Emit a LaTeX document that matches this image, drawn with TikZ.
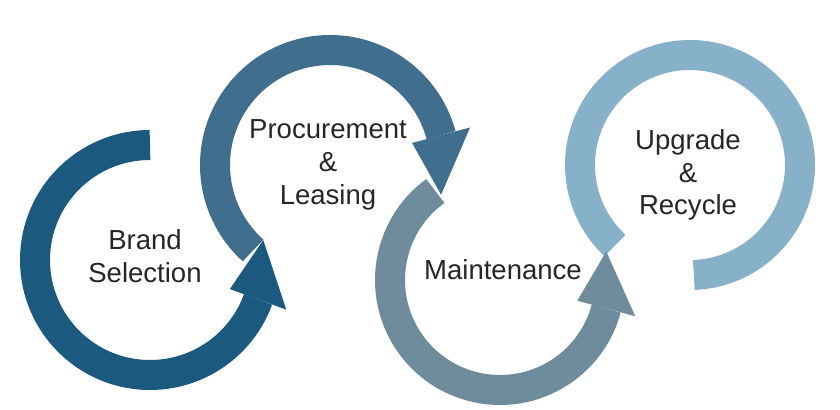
\documentclass[tikz,border=0pt]{standalone}
\usepackage{fontspec}
\setmainfont{Liberation Sans}
\begin{document}
\begin{tikzpicture}[x=0.03cm,y=0.03cm,
  lbl/.style={align=center,text=black!85,font=\fontsize{23.5}{28}\selectfont}]
\definecolor{c1}{HTML}{1B5A7E}
\definecolor{c2}{HTML}{3F6F8C}
\definecolor{c3}{HTML}{6F8C9C}
\definecolor{c4}{HTML}{87B1C8}
\fill[white] (0,0) rectangle (840,409);
\useasboundingbox (0,0) rectangle (840,409);
% ring 4
\begin{scope}[shift={(690,244)}]
\draw[c4,line width=30*0.03cm] (227:110) arc[start angle=227,end angle=-88,radius=110];
\end{scope}
% ring 3
\begin{scope}[shift={(500,129)}]
\draw[c3,line width=30*0.03cm] (126:110) arc[start angle=126,end angle=345,radius=110];
\fill[c3] (345:80) -- (345:140) -- (375:110) -- cycle;
\end{scope}
% ring 2
\begin{scope}[shift={(330,244)}]
\draw[c2,line width=30*0.03cm] (228:115) arc[start angle=228,end angle=15,radius=115];
\fill[c2] (15:85) -- (15:145) -- (-15:115) -- cycle;
\end{scope}
% ring 1
\begin{scope}[shift={(150,149)}]
\draw[c1,line width=30*0.03cm] (90:115) arc[start angle=90,end angle=340,radius=115];
\fill[c1] (340:85) -- (340:145) -- (370:115) -- cycle;
\end{scope}
\node[lbl] (t1) at (145,153) {Brand\\Selection};
\node[lbl] (t2) at (328,244) {Procurement\\\&\\Leasing};
\node[lbl] (t3) at (503,139) {Maintenance};
\node[lbl] (t4) at (688,234) {Upgrade\\\&\\Recycle};
\end{tikzpicture}
\end{document}
